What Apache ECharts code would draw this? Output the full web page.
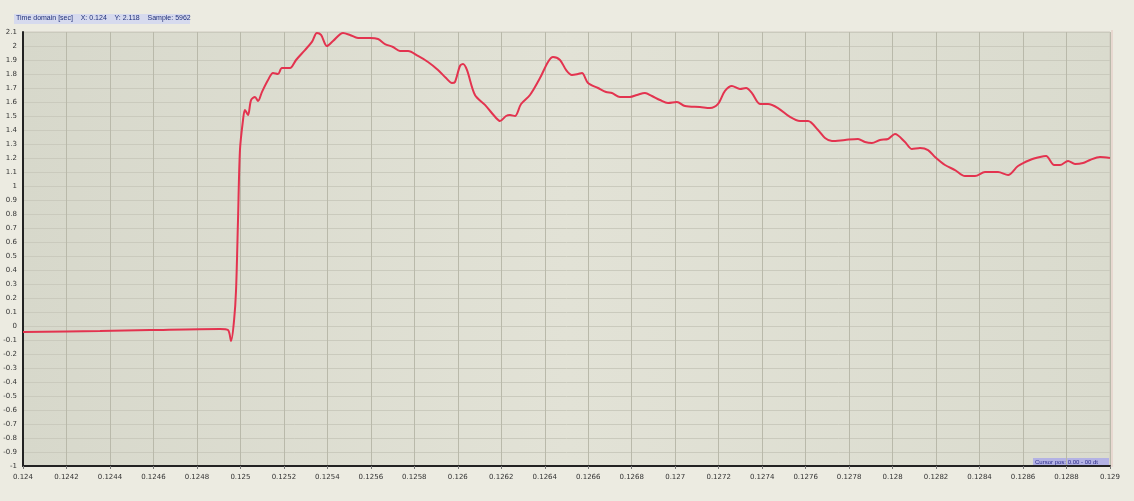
<!DOCTYPE html>
<html><head><meta charset="utf-8">
<script src="https://cdn.jsdelivr.net/npm/echarts@6/dist/echarts.min.js"></script>
<style>html,body{margin:0;padding:0;background:#ecebe1;}#c{width:1134px;height:501px;}</style>
</head><body><div id="c"></div>
<script>
const times = [0.124,0.124354,0.124584,0.124906,0.124943,0.124957,0.124971,0.12498,0.124989,0.124998,0.125012,0.125021,0.125035,0.125049,0.125067,0.125081,0.125099,0.125127,0.12515,0.125173,0.125191,0.125228,0.125256,0.125297,0.125329,0.125352,0.125371,0.125398,0.125426,0.125472,0.125504,0.125541,0.125596,0.125633,0.125665,0.125702,0.125734,0.125771,0.125817,0.125863,0.125909,0.125946,0.125973,0.125987,0.12601,0.126024,0.126042,0.126079,0.126125,0.126176,0.126194,0.126222,0.12624,0.126263,0.126291,0.126332,0.126378,0.126415,0.126438,0.12647,0.126498,0.126525,0.126553,0.126571,0.126599,0.126645,0.126682,0.126709,0.126746,0.126792,0.126824,0.126861,0.126893,0.12693,0.126967,0.127008,0.127045,0.127114,0.12716,0.127197,0.127229,0.127261,0.127298,0.127326,0.127353,0.12739,0.127427,0.127473,0.127528,0.127574,0.127611,0.127657,0.127689,0.127721,0.127781,0.127841,0.127873,0.127905,0.127942,0.127979,0.128011,0.128057,0.128089,0.128126,0.128163,0.128195,0.128241,0.128287,0.128333,0.128379,0.128425,0.128485,0.128531,0.128577,0.128632,0.128678,0.128706,0.128743,0.12877,0.128807,0.128839,0.128876,0.128908,0.128954,0.129];
const values = [-0.043,-0.036,-0.029,-0.021,-0.029,-0.107,0.043,0.257,0.757,1.257,1.471,1.543,1.507,1.614,1.636,1.607,1.671,1.757,1.807,1.8,1.843,1.843,1.9,1.971,2.029,2.093,2.079,2.0,2.036,2.093,2.079,2.057,2.057,2.05,2.014,1.993,1.964,1.964,1.929,1.886,1.829,1.771,1.736,1.743,1.857,1.871,1.829,1.65,1.579,1.486,1.464,1.5,1.507,1.5,1.586,1.65,1.771,1.886,1.921,1.9,1.829,1.793,1.8,1.807,1.736,1.7,1.671,1.664,1.636,1.636,1.65,1.664,1.643,1.614,1.593,1.6,1.571,1.564,1.557,1.586,1.679,1.714,1.693,1.7,1.664,1.586,1.586,1.557,1.493,1.464,1.464,1.4,1.343,1.321,1.329,1.336,1.314,1.307,1.329,1.336,1.371,1.314,1.264,1.271,1.257,1.207,1.15,1.114,1.071,1.071,1.1,1.1,1.079,1.143,1.186,1.207,1.214,1.15,1.15,1.179,1.157,1.164,1.186,1.207,1.2];
const xMin = 0.124, xMax = 0.129, xStep = 0.0002;
const yMin = -1, yMax = 2.1, yStep = 0.1;
const headerText = 'Time domain [sec]    X: 0.124    Y: 2.118    Sample: 5962';
const cursorText = 'Cursor pos: 0.00 - 00 dt';

const chart = echarts.init(document.getElementById('c'), null, {renderer:'canvas'});
const data = times.map((t,i)=>[t, values[i]]);
chart.setOption({
  backgroundColor:'#ecebe1',
  animation:false,
  grid:{left:23,right:24,top:32,bottom:35,show:true,borderColor:'#cfc9bf',borderWidth:1,
    backgroundColor:{type:'linear',x:0,y:0,x2:1,y2:0,colorStops:[{offset:0,color:'#d7d8cb'},{offset:0.5,color:'#e2e2d6'},{offset:1,color:'#dadbce'}]}},
  graphic:[
    {type:'rect',left:14,top:14,shape:{width:176,height:10},style:{fill:'#d6daee'}},
    {type:'text',left:16,top:15,style:{text:headerText,font:'7px "Liberation Sans"',fill:'#20307a'}},
    {type:'rect',left:1033,top:458,shape:{width:76,height:8},style:{fill:'#b3b2e4'}},
    {type:'text',left:1035,top:459,style:{text:cursorText,font:'6px "Liberation Sans"',fill:'#2a2a8a'}},
    {type:'rect',left:1111,top:30,shape:{width:2,height:437},style:{fill:'#e8d8d0'}}
  ],
  xAxis:{type:'value',min:xMin,max:xMax,interval:xStep,
    axisLine:{show:true,onZero:false,lineStyle:{color:'#222',width:2}},
    axisTick:{show:true,length:3,lineStyle:{color:'#777'}},
    axisLabel:{fontSize:7,color:'#333',fontFamily:'DejaVu Sans',margin:8,
      formatter:v=>String(+v.toFixed(4))},
    splitLine:{show:true,lineStyle:{color:'#b9b9aa',width:1}}},
  yAxis:{type:'value',min:yMin,max:yMax,interval:yStep,
    axisLine:{show:true,onZero:false,lineStyle:{color:'#222',width:2}},
    axisTick:{show:false},
    axisLabel:{fontSize:7,color:'#333',fontFamily:'DejaVu Sans',margin:6,
      formatter:v=>String(+v.toFixed(1))},
    splitLine:{show:true,lineStyle:{color:'#cacabd',width:1}}},
  series:[{type:'line',data:data,showSymbol:false,smooth:0.3,
    lineStyle:{color:'#e3334f',width:2}}]
});
</script></body></html>
